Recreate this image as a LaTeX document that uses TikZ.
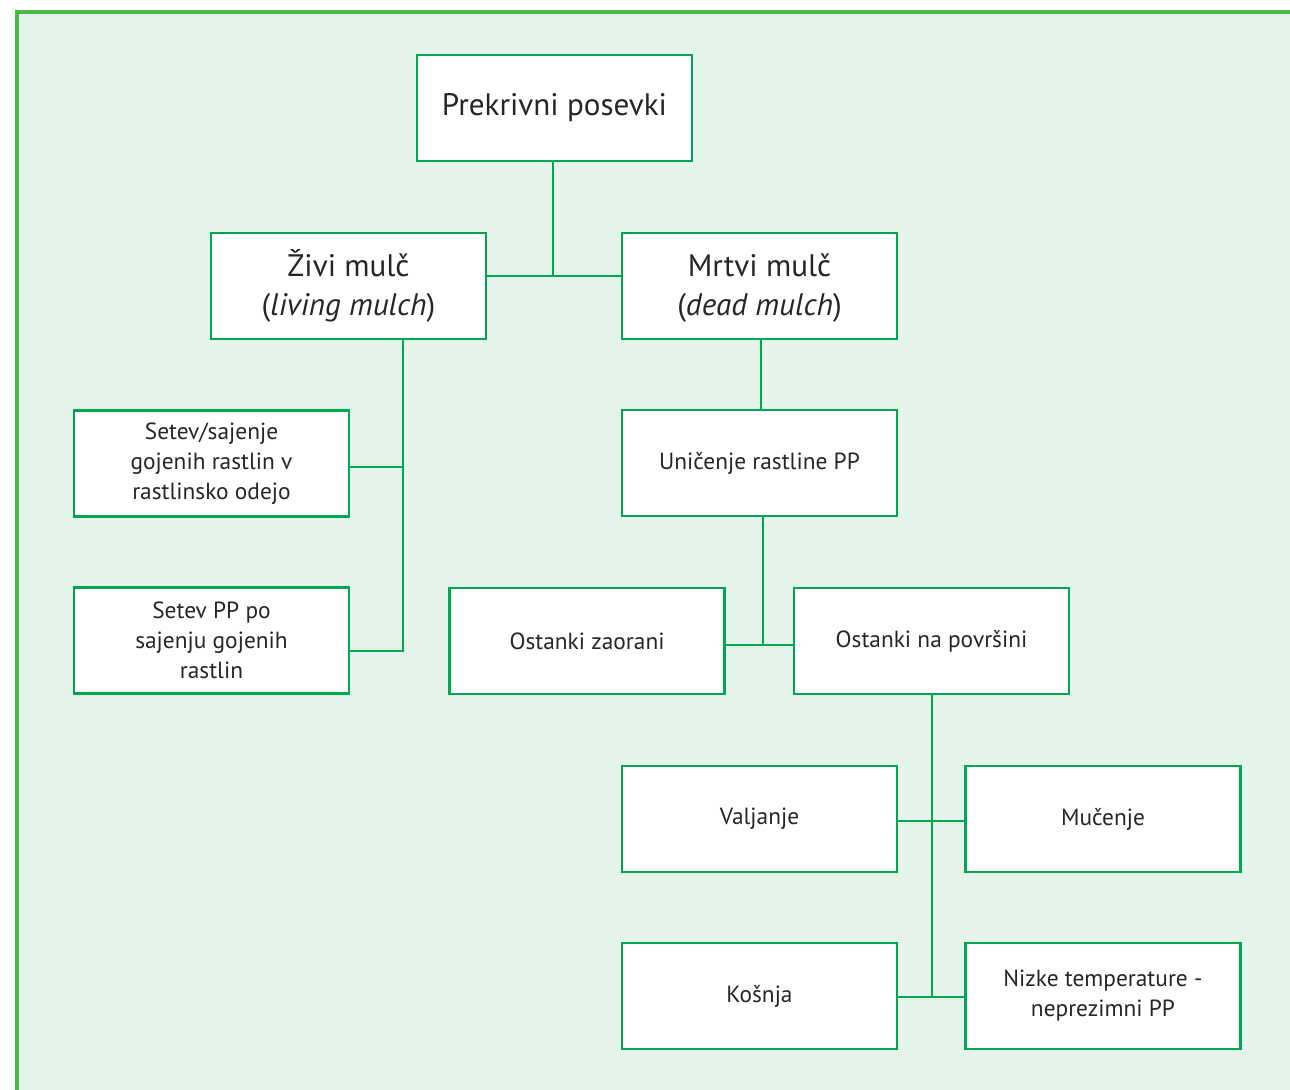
\documentclass[tikz,border=0pt]{standalone}
\usepackage{fontspec}
\setmainfont{PT Sans}
\usepackage{xcolor}
\usetikzlibrary{shapes,arrows,positioning}

\definecolor{boxgreen}{HTML}{00A651}
\definecolor{framegreen}{HTML}{4DB848}
\definecolor{paleback}{HTML}{E4F4EA}

\begin{document}
\begin{tikzpicture}[x=0.02cm, y=-0.02cm, node distance=1.37cm]
        % Define styles
        \tikzstyle{card} = [rectangle, draw=boxgreen, line width=0.05cm, fill=white, minimum width=5.5cm, minimum height=2.12cm, inner sep=0pt, align=center, text=black!85]
        \tikzstyle{bigcard} = [card, font=\fontsize{17.7}{22.2}\selectfont]
        \tikzstyle{smallcard} = [card, font=\fontsize{13.3}{17.1}\selectfont]
        \tikzstyle{link} = [boxgreen, line width=0.05cm]

        % Page and frame
        \useasboundingbox (0,0) rectangle (1290,1089);
        \clip (0,0) rectangle (1290,1089);
        \draw [framegreen, line width=0.07cm, fill=paleback] (17,12) rectangle (1310,1110);

        % Top and mulch types
        \node [bigcard] (posevki) at (554.5,108) {Prekrivni posevki};
        \node [bigcard] (zivi) at (348.5,286) {Živi mulč\\(\textit{living mulch})};
        \node [bigcard] (mrtvi) at (759.5,286) {Mrtvi mulč\vphantom{Ž}\\(\textit{dead mulch})};

        % Living mulch branch
        \node [smallcard] (sajenje) at (211.5,463.5) {Setev/sajenje\\gojenih rastlin v\\rastlinsko odejo};
        \node [smallcard, below=of sajenje] (setevpp) {Setev PP po\\sajenju gojenih\\rastlin};

        % Dead mulch branch
        \node [smallcard, below=of mrtvi] (unicenje) {Uničenje rastline PP};
        \node [smallcard] (povrsina) at (931.5,641) {Ostanki na površini};
        \node [smallcard, left=1.34cm of povrsina] (zaorani) {Ostanki zaorani};
        \node [smallcard] (valjanje) at (759.5,819) {Valjanje};
        \node [smallcard, right=1.32cm of valjanje] (mucenje) {Mučenje};
        \node [smallcard, below=of valjanje] (kosnja) {Košnja};
        \node [smallcard, below=of mucenje] (nizke) {Nizke temperature -\\neprezimni PP};

        % Junctions
        \coordinate (jtop) at (553,276);
        \coordinate (jzivi) at (403,651);
        \coordinate (juni) at (763,645);
        \coordinate (jpov) at (932,997);

        % Connectors
        \draw [link] (posevki.south -| jtop) -- (jtop);
        \draw [link] (zivi.east |- jtop) -- (mrtvi.west |- jtop);
        \draw [link] (zivi.south -| jzivi) -- (jzivi) -- (setevpp.east |- jzivi);
        \draw [link] (sajenje.east) ++(0,3.5) -- +(54,0);
        \draw [link] (mrtvi.south -| 761,0) -- (unicenje.north -| 761,0);
        \draw [link] (unicenje.south -| juni) -- (juni);
        \draw [link] (zaorani.east |- juni) -- (povrsina.west |- juni);
        \draw [link] (povrsina.south -| jpov) -- (jpov);
        \draw [link] (valjanje.east |- 0,821) -- (mucenje.west |- 0,821);
        \draw [link] (kosnja.east |- jpov) -- (nizke.west |- jpov);
\end{tikzpicture}
\end{document}
